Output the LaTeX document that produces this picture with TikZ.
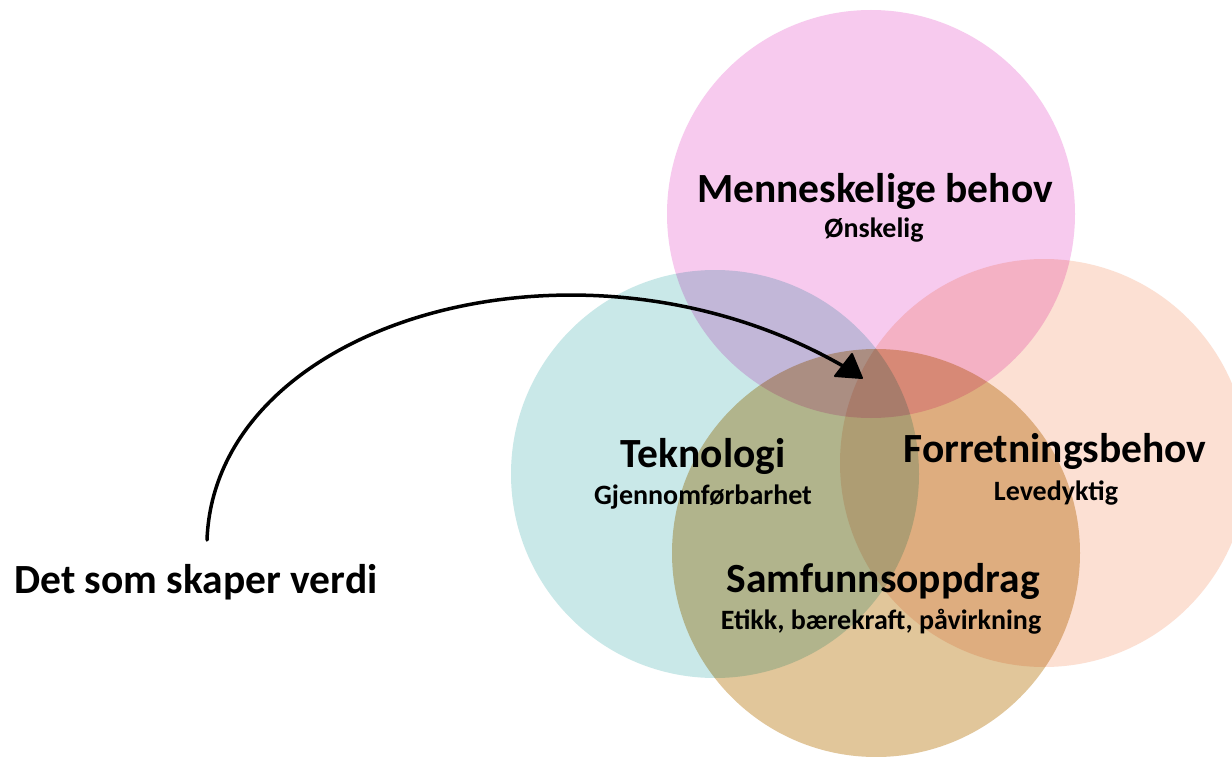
\documentclass[tikz,border=0pt]{standalone}
\usepackage{fontspec}
\setmainfont{Carlito}
\definecolor{pinkc}{RGB}{247,202,238}
\definecolor{tealc}{RGB}{201,232,232}
\definecolor{peachc}{RGB}{252,224,211}
\definecolor{tanc}{RGB}{225,198,154}
\begin{document}
\begin{tikzpicture}[x=1pt,y=-1pt,
  big/.style={font=\fontsize{41.5}{48}\selectfont\bfseries, anchor=base, inner sep=0pt},
  small/.style={font=\fontsize{28}{32}\selectfont\bfseries, anchor=base, inner sep=0pt},
  venn/.style={circle, draw=none, inner sep=0pt, minimum size=408pt},
  arrowline/.style={line width=3.5pt, line cap=round, black},
  arrowtip/.style={fill=black, draw=black, line width=2pt, line join=round}]
\fill[white] (0,0) rectangle (1232,757);
\useasboundingbox (0,0) rectangle (1232,757);
\begin{scope}[blend group=multiply]
  \node[venn, fill=tealc]  (tek)  at (715,474) {};
  \node[venn, fill=pinkc]  (men)  at (871,214) {};
  \node[venn, fill=peachc] (for)  at (1044,463) {};
  \node[venn, fill=tanc]   (sam)  at (876,553) {};
\end{scope}
% labels
\node[big]   (menT) at (875,203) {Menneskelige behov};
\node[small] (menS) at (874,237) {Ønskelig};
\node[big]   (tekT) at (703,467) {Teknologi};
\node[small] (tekS) at (703,504) {Gjennomførbarhet};
\node[big]   (forT) at (1055,462) {Forretningsbehov};
\node[small] (forS) at (1056,500) {Levedyktig};
\node[big]   (samT) at (883,592) {Samfunnsoppdrag};
\node[small] (samS) at (881,629) {Etikk, bærekraft, påvirkning};
\node[big]   (verdi) at (196,593) {Det som skaper verdi};
% arrow
\coordinate (astart) at (207,540);
\coordinate (aend) at (843,366);
\coordinate (t1) at (835,376);
\coordinate (t2) at (852,354);
\coordinate (t3) at (862,378);
\draw[arrowline] (astart) .. controls (215,320) and (580,215) .. (aend);
\filldraw[arrowtip] (t1) -- (t2) -- (t3) -- cycle;
\end{tikzpicture}
\end{document}
